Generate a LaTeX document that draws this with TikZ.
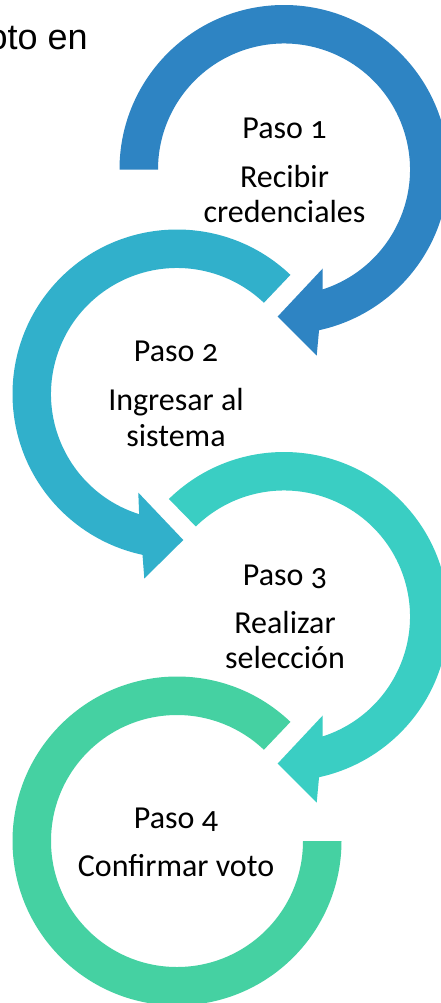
\documentclass[tikz,border=0pt]{standalone}
\usepackage{fontspec}
\setmainfont{Carlito}[Numbers=OldStyle]
\newfontfamily\titlefont{Liberation Sans}
\usetikzlibrary{calc}
\definecolor{colA}{HTML}{2E84C3}
\definecolor{colB}{HTML}{31B0CB}
\definecolor{colC}{HTML}{3ACEC3}
\definecolor{colD}{HTML}{45D1A2}
\tikzset{
  steplbl/.style={inner sep=0pt, anchor=base, font=\fontsize{24}{26}\selectfont, text=black},
}
\begin{document}
\begin{tikzpicture}[x=0.75pt,y=0.75pt]
\clip (0,0) rectangle (441,-1003);
\fill[white] (0,0) rectangle (441,-1003);
\def\Ro{164.5}
\def\Ri{126}
\coordinate (c1) at (284,-169.5);
\coordinate (c2) at (177,-394);
\coordinate (c3) at (284,-616.5);
\coordinate (c4) at (177,-841);
% title fragment
\node[inner sep=0pt, anchor=base east, font=\titlefont\fontsize{27}{30}\selectfont] (title) at (88,-49.3) {oto en};
% ring 1
\fill[colA] ($(c1)+(180:\Ro)$) arc[start angle=180, end angle=-77.7, radius=\Ro]
  -- ($(c1)+(32.7,-186)$) -- ($(c1)+(-6.3,-147)$) -- ($(c1)+(38.7,-99)$)
  -- ($(c1)+(-72.1:\Ri)$) arc[start angle=-72.1, end angle=180, radius=\Ri] -- cycle;
% ring 2
\fill[colB] ($(c2)+(46.4:\Ro)$) arc[start angle=46.4, end angle=257.9, radius=\Ro]
  -- ($(c2)+(-32.7,-184.5)$) -- ($(c2)+(6.3,-146)$) -- ($(c2)+(-38.7,-98.6)$)
  -- ($(c2)+(252.5:\Ri)$) arc[start angle=252.5, end angle=46.4, radius=\Ri] -- cycle;
% ring 3
\fill[colC] ($(c3)+(134.4:\Ro)$) arc[start angle=134.4, end angle=-77.7, radius=\Ro]
  -- ($(c3)+(32.7,-186)$) -- ($(c3)+(-6.3,-147)$) -- ($(c3)+(38.7,-99)$)
  -- ($(c3)+(-72.1:\Ri)$) arc[start angle=-72.1, end angle=134.4, radius=\Ri] -- cycle;
% ring 4
\fill[colD] ($(c4)+(46.4:\Ro)$) arc[start angle=46.4, end angle=360, radius=\Ro]
  -- ($(c4)+(360:\Ri)$) arc[start angle=360, end angle=46.4, radius=\Ri] -- cycle;
% labels
\node[steplbl] (p1) at (284.5,-138) {Paso 1};
\node[steplbl] (t1a) at (284.5,-187) {Recibir};
\node[steplbl] (t1b) at (284.5,-222) {credenciales};
\node[steplbl] (p2) at (176,-361.7) {Paso 2};
\node[steplbl] (t2a) at (176,-410.7) {Ingresar al};
\node[steplbl] (t2b) at (176,-446) {sistema};
\node[steplbl] (p3) at (285,-585) {Paso 3};
\node[steplbl] (t3a) at (285,-633) {Realizar};
\node[steplbl] (t3b) at (285,-668) {selección};
\node[steplbl] (p4) at (176,-828) {Paso 4};
\node[steplbl] (t4) at (176,-876) {Confirmar voto};
\end{tikzpicture}
\end{document}
